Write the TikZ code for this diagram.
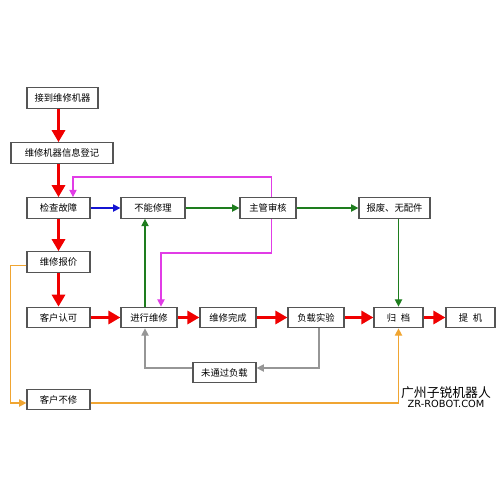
\documentclass[tikz,border=0pt]{standalone}
\usepackage{fontspec}
\setmainfont{Noto Sans CJK SC}
\newfontfamily\latinfont{DejaVu Sans}
\usepackage{tikz}
\usetikzlibrary{positioning, arrows.meta, calc}

\definecolor{boxgray}{RGB}{85,85,85}
\definecolor{flowred}{RGB}{240,0,0}
\definecolor{flowblue}{RGB}{20,20,210}
\definecolor{flowgreen}{RGB}{30,125,30}
\definecolor{flowpink}{RGB}{225,60,230}
\definecolor{flowgray}{RGB}{150,150,150}
\definecolor{floworange}{RGB}{240,165,50}

\begin{document}
\begin{tikzpicture}[
            x=0.02cm, y=-0.02cm,
            box/.style={draw=boxgray, line width=0.7pt, rectangle, fill=white, minimum width=#1*0.02cm, minimum height=0.41cm, inner sep=0pt, font=\fontsize{5.3pt}{6pt}\selectfont},
            redflow/.style={draw=flowred, line width=2.2pt, -{Triangle[length=6.8pt,width=7.4pt]}},
            thinflow/.style={line width=0.75pt, -{Triangle[length=4.2pt,width=4.2pt]}},
            blueflow/.style={thinflow, draw=flowblue},
            greenflow/.style={thinflow, draw=flowgreen},
            pinkflow/.style={thinflow, draw=flowpink},
            grayflow/.style={thinflow, draw=flowgray},
            orangeflow/.style={thinflow, draw=floworange}
        ]
        \useasboundingbox (0,0) rectangle (500,500);

        % Knoten
        \node[box=71] (recv) at (62.5,98) {接到维修机器};
        \node[box=102] (reg) at (62,153) {维修机器信息登记};
        \node[box=63] (check) at (58.5,208) {检查故障};
        \node[box=64] (cannot) at (153,208) {不能修理};
        \node[box=56] (review) at (268,208) {主管审核};
        \node[box=71] (scrap) at (394.5,208) {报废、无配件};
        \node[box=63] (quote) at (58.5,262) {维修报价};
        \node[box=63] (accept) at (58.5,317.5) {客户认可};
        \node[box=56] (repair) at (149,317.5) {进行维修};
        \node[box=56] (done) at (228,317.5) {维修完成};
        \node[box=56] (load) at (316,317.5) {负载实验};
        \node[box=49] (archive) at (398.5,317.5) {归\hspace{0.5em}档};
        \node[box=49] (pickup) at (470.5,317.5) {提\hspace{0.5em}机};
        \node[box=63] (fail) at (224.5,372.5) {未通过负载};
        \node[box=63] (refuse) at (58.5,399.5) {客户不修};

        % Wasserzeichen
        \node[inner sep=0pt, font=\fontsize{7.3pt}{8pt}\selectfont] (markcn) at (446,393) {广州子锐机器人};
        \node[inner sep=0pt, font=\latinfont\fontsize{5.6pt}{6pt}\selectfont, below=0.5pt of markcn] (markurl) {ZR-ROBOT.COM};

        % Kanten
        \draw[redflow] (check.north |- recv.south) -- (check.north |- reg.north);
        \draw[redflow] (check.north |- reg.south) -- (check.north);
        \draw[redflow] (check) -- (quote);
        \draw[redflow] (quote) -- (accept);
        \draw[redflow] (accept) -- (repair);
        \draw[redflow] (repair) -- (done);
        \draw[redflow] (done) -- (load);
        \draw[redflow] (load) -- (archive);
        \draw[redflow] (archive) -- (pickup);

        \draw[blueflow] (check) -- (cannot);
        \draw[greenflow] (cannot) -- (review);
        \draw[greenflow] (review) -- (scrap);
        \draw[greenflow] (archive.north |- scrap.south) -- (archive.north);
        \draw[greenflow] ([xshift=-0.08cm]repair.north) -- ([xshift=-0.08cm]repair.north |- cannot.south);

        \draw[pinkflow] ([xshift=0.07cm]review.north) -- ++(0,-20) -| ([xshift=0.29cm]check.north);
        \draw[pinkflow] ([xshift=0.07cm]review.south) -- ++(0,34) -| ([xshift=0.24cm]repair.north);

        \draw[grayflow] ([xshift=0.06cm]load.south) |- ([yshift=0.09cm]fail.east);
        \draw[grayflow] ([yshift=0.09cm]fail.west) -| ([xshift=-0.08cm]repair.south);

        \draw[orangeflow] ([yshift=-0.07cm]quote.west) -- ++(-16,0) |- ([yshift=-0.07cm]refuse.west);
        \draw[orangeflow] ([yshift=-0.07cm]refuse.east) -| (archive.south);

    \end{tikzpicture}
\end{document}
